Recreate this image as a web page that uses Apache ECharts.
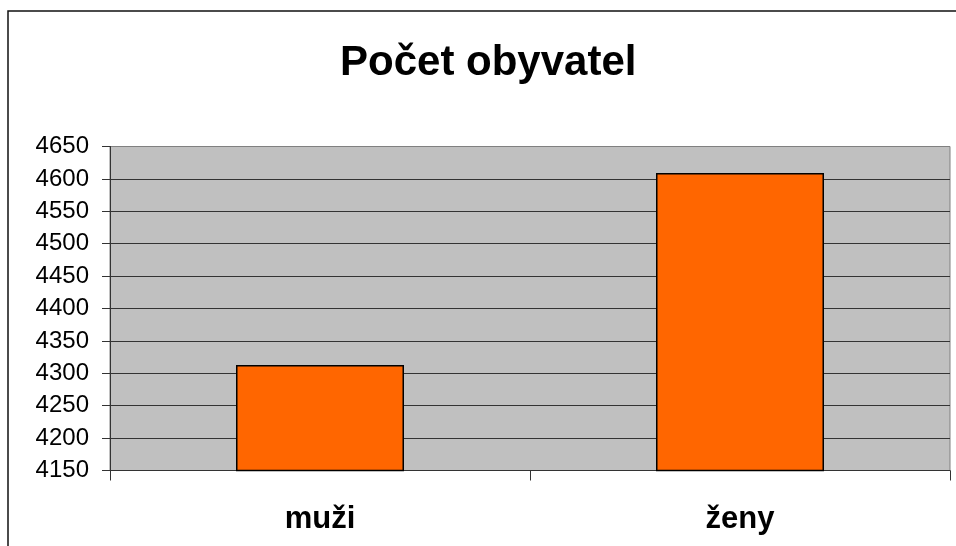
<!DOCTYPE html>
<html><head><meta charset="utf-8">
<script src="https://cdn.jsdelivr.net/npm/echarts@6/dist/echarts.min.js"></script>
<style>html,body{margin:0;padding:0;background:#fff}#c{width:956px;height:546px}</style>
</head><body><div id="c"></div>
<script>
const titleText = 'Počet obyvatel';
const categories = ['muži', 'ženy'];
const values = [4313, 4609];
const yMin = 4150, yMax = 4650, yStep = 50;

const chart = echarts.init(document.getElementById('c'), null, {renderer: 'canvas'});
const F = '"Liberation Sans", Arial, sans-serif';
const splitColors = [];
for (let v = yMin; v <= yMax; v += yStep) splitColors.push(v === yMax ? '#808080' : '#333333');
chart.setOption({
  animation: false,
  backgroundColor: '#ffffff',
  title: {
    text: titleText, left: 335, top: 37,
    textStyle: {fontFamily: F, fontSize: 42, fontWeight: 'bold', color: '#000'}
  },
  grid: {
    left: 110, right: 6, top: 146.5, bottom: 75.5,
    show: true, backgroundColor: '#C0C0C0', borderColor: '#808080', borderWidth: 1
  },
  xAxis: {
    type: 'category', data: categories,
    axisLine: {show: true, lineStyle: {color: '#333', width: 1}},
    axisTick: {show: true, length: 10, alignWithLabel: false, lineStyle: {color: '#333'}},
    axisLabel: {fontFamily: F, fontSize: 31, fontWeight: 'bold', color: '#000', margin: 33},
    splitLine: {show: false}
  },
  yAxis: {
    type: 'value', min: yMin, max: yMax, interval: yStep,
    axisLine: {show: true, lineStyle: {color: '#333', width: 1}},
    axisTick: {show: true, length: 8, lineStyle: {color: '#333'}},
    axisLabel: {fontFamily: F, fontSize: 24, color: '#000', margin: 21, formatter: v => String(v)},
    splitLine: {show: true, lineStyle: {color: splitColors, width: 1}}
  },
  series: [{
    type: 'bar', data: values, barWidth: '40%',
    itemStyle: {color: '#FF6600', borderColor: '#000', borderWidth: 1.5}
  }],
  graphic: [{
    type: 'rect', silent: true, z: 100,
    shape: {x: 8, y: 11, width: 1100, height: 700},
    style: {fill: 'none', stroke: '#111', lineWidth: 1.5}
  }]
});
</script></body></html>
